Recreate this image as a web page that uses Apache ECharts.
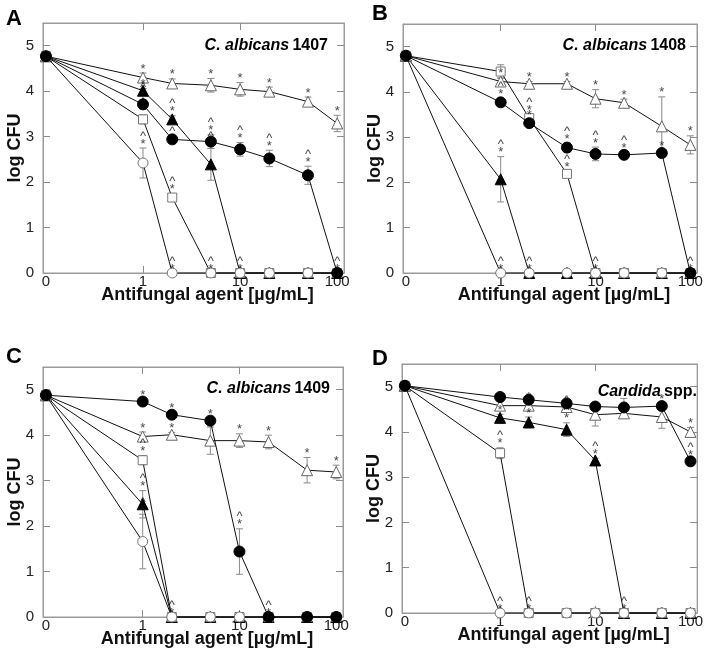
<!DOCTYPE html>
<html><head><meta charset="utf-8">
<script src="https://cdn.jsdelivr.net/npm/echarts@6/dist/echarts.min.js"></script>
<style>html,body{margin:0;padding:0;background:#fff}#c{width:706px;height:655px}</style>
</head><body><div id="c"></div>
<script>
// ---------- data ----------
const conc = [0, 1, 2, 5, 10, 20, 50, 100];
const xTickValues = [-1, 0, 1, 2];
const xTickLabels = ['0', '1', '10', '100'];
const yTickLabels = ['0', '1', '2', '3', '4', '5'];
const panelLetters = ['A', 'B', 'C', 'D'];
const panelTitleItalic = ['C. albicans', 'C. albicans', 'C. albicans', 'Candida'];
const panelTitleRest = ['1407', '1408', '1409', 'spp.'];

// Panel A
const A_openSquare     = [4.77, 3.38, 1.66, 0, 0, 0, 0, 0];
const A_openCircle     = [4.77, 2.42, 0, 0, 0, 0, 0, 0];
const A_openTriangle   = [4.77, 4.30, 4.17, 4.13, 4.04, 3.99, 3.77, 3.29];
const A_filledTriangle = [4.77, 4.01, 3.38, 2.39, 0, 0, 0, 0];
const A_filledCircle   = [4.77, 3.71, 2.94, 2.89, 2.72, 2.52, 2.15, 0];
const A_err_openSquare     = [0, 0.10, 0.08, 0, 0, 0, 0, 0];
const A_err_openCircle     = [0, 0.33, 0, 0, 0, 0, 0, 0];
const A_err_openTriangle   = [0, 0.10, 0.10, 0.15, 0.15, 0.10, 0.10, 0.18];
const A_err_filledTriangle = [0, 0.05, 0.08, 0.35, 0, 0, 0, 0];
const A_err_filledCircle   = [0, 0.10, 0.08, 0.15, 0.15, 0.18, 0.20, 0];
const A_note_openSquare     = ['', '^*', '^*', '^*', '', '', '', ''];
const A_note_openCircle     = ['', '^*', '^*', '', '', '', '', ''];
const A_note_openTriangle   = ['', '*', '*', '*', '*', '*', '*', '*'];
const A_note_filledTriangle = ['', '*', '^*', '^*', '^*', '', '', ''];
const A_note_filledCircle   = ['', '^*', '^', '^*', '^*', '^*', '^*', '^*'];

// Panel B
const B_openSquare     = [4.80, 4.45, 3.42, 2.19, 0, 0, 0, 0];
const B_openCircle     = [4.80, 0, 0, 0, 0, 0, 0, 0];
const B_openTriangle   = [4.80, 4.23, 4.18, 4.18, 3.85, 3.76, 3.24, 2.83];
const B_filledTriangle = [4.80, 2.07, 0, 0, 0, 0, 0, 0];
const B_filledCircle   = [4.80, 3.77, 3.31, 2.77, 2.63, 2.61, 2.65, 0];
const B_err_openSquare     = [0, 0.15, 0.08, 0.05, 0, 0, 0, 0];
const B_err_openCircle     = [0, 0, 0, 0, 0, 0, 0, 0];
const B_err_openTriangle   = [0, 0.08, 0.05, 0.05, 0.20, 0.08, 0.65, 0.20];
const B_err_filledTriangle = [0, 0.50, 0, 0, 0, 0, 0, 0];
const B_err_filledCircle   = [0, 0.08, 0.08, 0.10, 0.15, 0.05, 0.05, 0];
const B_note_openSquare     = ['', '', '^*', '^*', '^*', '', '', ''];
const B_note_openCircle     = ['', '^*', '', '', '', '', '', ''];
const B_note_openTriangle   = ['', '*', '*', '*', '*', '*', '*', '*'];
const B_note_filledTriangle = ['', '^*', '^*', '', '', '', '', ''];
const B_note_filledCircle   = ['', '^*', '*', '^*', '^*', '^*', '*', '^*'];

// Panel C
const C_openSquare     = [4.88, 3.45, 0, 0, 0, 0, 0, 0];
const C_openCircle     = [4.88, 1.66, 0, 0, 0, 0, 0, 0];
const C_openTriangle   = [4.88, 3.97, 4.01, 3.88, 3.88, 3.85, 3.23, 3.19];
const C_filledTriangle = [4.88, 2.48, 0, 0, 0, 0, 0, 0];
const C_filledCircle   = [4.88, 4.74, 4.45, 4.32, 1.44, 0, 0, 0];
const C_err_openSquare     = [0, 0.10, 0, 0, 0, 0, 0, 0];
const C_err_openCircle     = [0, 0.60, 0, 0, 0, 0, 0, 0];
const C_err_openTriangle   = [0, 0.10, 0.05, 0.30, 0.15, 0.15, 0.28, 0.15];
const C_err_filledTriangle = [0, 0.30, 0, 0, 0, 0, 0, 0];
const C_err_filledCircle   = [0, 0.05, 0.05, 0.05, 0.50, 0, 0, 0];
const C_note_openSquare     = ['', '^*', '', '', '', '', '', ''];
const C_note_openCircle     = ['', '^*', '^*', '', '', '', '', ''];
const C_note_openTriangle   = ['', '*', '*', '*', '*', '*', '*', '*'];
const C_note_filledTriangle = ['', '^*', '', '', '', '', '', ''];
const C_note_filledCircle   = ['', '*', '*', '*', '^*', '^*', '', ''];

// Panel D
const D_openSquare     = [5.02, 3.53, 0, 0, 0, 0, 0, 0];
const D_openCircle     = [5.02, 0, 0, 0, 0, 0, 0, 0];
const D_openTriangle   = [5.02, 4.58, 4.58, 4.55, 4.38, 4.41, 4.33, 4.00];
const D_filledTriangle = [5.02, 4.31, 4.21, 4.05, 3.37, 0, 0, 0];
const D_filledCircle   = [5.02, 4.77, 4.71, 4.63, 4.56, 4.54, 4.57, 3.35];
const D_err_openSquare     = [0, 0.12, 0, 0, 0, 0, 0, 0];
const D_err_openCircle     = [0, 0, 0, 0, 0, 0, 0, 0];
const D_err_openTriangle   = [0, 0.10, 0.10, 0.05, 0.25, 0.10, 0.25, 0.10];
const D_err_filledTriangle = [0, 0.08, 0.12, 0.15, 0.05, 0, 0, 0];
const D_err_filledCircle   = [0, 0.05, 0.05, 0.05, 0.05, 0.20, 0.05, 0.05];
const D_note_openSquare     = ['', '^*', '^*', '', '', '', '', ''];
const D_note_openCircle     = ['', '^*', '', '', '', '', '', ''];
const D_note_openTriangle   = ['', '*', '*', '^', '', '', '', '*'];
const D_note_filledTriangle = ['', '*', '*', '^*', '^*', '^*', '', ''];
const D_note_filledCircle   = ['', '', '', '', '', '', '*', '^*'];

// ---------- assembly (drawing order: ▲, △, □, ○, ●) ----------
const panelValues = [
  [A_filledTriangle, A_openTriangle, A_openSquare, A_openCircle, A_filledCircle],
  [B_filledTriangle, B_openTriangle, B_openSquare, B_openCircle, B_filledCircle],
  [C_filledTriangle, C_openTriangle, C_openSquare, C_openCircle, C_filledCircle],
  [D_filledTriangle, D_openTriangle, D_openSquare, D_openCircle, D_filledCircle]
];
const panelErrors = [
  [A_err_filledTriangle, A_err_openTriangle, A_err_openSquare, A_err_openCircle, A_err_filledCircle],
  [B_err_filledTriangle, B_err_openTriangle, B_err_openSquare, B_err_openCircle, B_err_filledCircle],
  [C_err_filledTriangle, C_err_openTriangle, C_err_openSquare, C_err_openCircle, C_err_filledCircle],
  [D_err_filledTriangle, D_err_openTriangle, D_err_openSquare, D_err_openCircle, D_err_filledCircle]
];
const panelNotes = [
  [A_note_filledTriangle, A_note_openTriangle, A_note_openSquare, A_note_openCircle, A_note_filledCircle],
  [B_note_filledTriangle, B_note_openTriangle, B_note_openSquare, B_note_openCircle, B_note_filledCircle],
  [C_note_filledTriangle, C_note_openTriangle, C_note_openSquare, C_note_openCircle, C_note_filledCircle],
  [D_note_filledTriangle, D_note_openTriangle, D_note_openSquare, D_note_openCircle, D_note_filledCircle]
];

const FONT = 'Liberation Sans, Arial, Helvetica, sans-serif';
const gridBoxes = [
  {left: 43, top: 23, width: 301, height: 250},
  {left: 403, top: 24, width: 294, height: 249},
  {left: 43, top: 367, width: 300, height: 250},
  {left: 402, top: 364, width: 297, height: 249}
];
const letterPos = [[6, 8], [372, 3], [6, 346], [372, 348]];
const titlePos = [[328, 46], [686, 46], [330, 389], [697, 392]];

const markerStyles = [
  {symbol: 'triangle', symbolSize: 11, itemStyle: {color: '#000', borderColor: '#000', borderWidth: 1}},
  {symbol: 'triangle', symbolSize: 11, itemStyle: {color: '#fff', borderColor: '#666', borderWidth: 1}},
  {symbol: 'rect', symbolSize: 9, itemStyle: {color: '#fff', borderColor: '#777', borderWidth: 1}},
  {symbol: 'circle', symbolSize: 10, itemStyle: {color: '#fff', borderColor: '#777', borderWidth: 1}},
  {symbol: 'circle', symbolSize: 11, itemStyle: {color: '#000', borderColor: '#000', borderWidth: 1}}
];

function xPos(c) { return c === 0 ? -1 : Math.log10(c); }

const grid = [], xAxis = [], yAxis = [], series = [], graphic = [];
const XMIN = -1.03, XMAX = 2.07;
const GRAY = '#9a9a9a';
const tickStyle = {color: '#8c8c8c', width: 1};
const lineGray = {show: true, onZero: false, lineStyle: {color: GRAY, width: 1}};

for (let p = 0; p < 4; p++) {
  grid.push(Object.assign({show: true, borderColor: GRAY, borderWidth: 1, backgroundColor: 'transparent'}, gridBoxes[p]));
  xAxis.push({
    gridIndex: p, type: 'value', min: XMIN, max: XMAX, position: 'bottom',
    axisLine: lineGray, splitLine: {show: false},
    axisTick: {show: true, inside: true, length: 7, lineStyle: tickStyle, customValues: [0, 1]},
    axisLabel: {customValues: xTickValues, formatter: v => xTickLabels[xTickValues.indexOf(v)],
      margin: 1, fontSize: 15, color: '#222', fontFamily: FONT},
    name: 'Antifungal agent [µg/mL]', nameLocation: 'middle', nameGap: 13, nameMoveOverlap: false,
    nameTextStyle: {fontSize: 18, fontWeight: 'bold', color: '#111', fontFamily: FONT, padding: [0, 0, 0, 28]}
  });
  xAxis.push({
    gridIndex: p, type: 'value', min: XMIN, max: XMAX, position: 'top',
    axisLine: lineGray, splitLine: {show: false},
    axisTick: {show: true, inside: true, length: 7, lineStyle: tickStyle, customValues: [0, 1]},
    axisLabel: {show: false}
  });
  yAxis.push({
    gridIndex: p, type: 'value', min: 0, max: 5.5, position: 'left',
    axisLine: lineGray, splitLine: {show: false},
    axisTick: {show: true, inside: true, length: 7, lineStyle: tickStyle, customValues: [1, 2, 3, 4, 5]},
    axisLabel: {customValues: [0, 1, 2, 3, 4, 5], formatter: v => yTickLabels[v],
      margin: 9, fontSize: 15, color: '#222', fontFamily: FONT},
    name: 'log CFU', nameLocation: 'middle', nameGap: 19, nameMoveOverlap: false,
    nameTextStyle: {fontSize: 18, fontWeight: 'bold', color: '#111', fontFamily: FONT}
  });
  yAxis.push({
    gridIndex: p, type: 'value', min: 0, max: 5.5, position: 'right',
    axisLine: lineGray, splitLine: {show: false},
    axisTick: {show: true, inside: true, length: 7, lineStyle: tickStyle, customValues: [1, 2, 3, 4, 5]},
    axisLabel: {show: false}
  });

  const xi = p * 2, yi = p * 2;
  const errData = [], noteData = [];
  panelValues[p].forEach((vals, s) => {
    const errs = panelErrors[p][s], notes = panelNotes[p][s];
    series.push(Object.assign({
      type: 'line', xAxisIndex: xi, yAxisIndex: yi, clip: false, z: 3 + s,
      showSymbol: true, showAllSymbol: true,
      lineStyle: {color: '#111', width: 1},
      data: conc.map((c, i) => [xPos(c), vals[i]])
    }, markerStyles[s]));
    conc.forEach((c, i) => {
      if (errs[i] > 0) errData.push([xPos(c), vals[i] - errs[i], vals[i] + errs[i]]);
      if (notes[i]) noteData.push([xPos(c), vals[i] + errs[i], notes[i]]);
    });
  });
  series.push({
    type: 'custom', xAxisIndex: xi, yAxisIndex: yi, z: 2, silent: true, clip: false,
    renderItem: (params, api) => {
      const x = api.value(0);
      const a = api.coord([x, api.value(1)]), b = api.coord([x, api.value(2)]);
      const w = 3.5, st = {stroke: '#8a8a8a', lineWidth: 1};
      return {type: 'group', children: [
        {type: 'line', shape: {x1: a[0], y1: a[1], x2: b[0], y2: b[1]}, style: st},
        {type: 'line', shape: {x1: a[0] - w, y1: a[1], x2: a[0] + w, y2: a[1]}, style: st},
        {type: 'line', shape: {x1: b[0] - w, y1: b[1], x2: b[0] + w, y2: b[1]}, style: st}
      ]};
    },
    data: errData
  });
  series.push({
    type: 'scatter', xAxisIndex: xi, yAxisIndex: yi, z: 20, silent: true, clip: false,
    symbolSize: 0, itemStyle: {color: 'transparent'},
    label: {show: true, position: 'top', distance: 0,
      formatter: q => q.value[2].split('').join('\n'),
      fontSize: 13, lineHeight: 8, color: '#111', fontFamily: FONT},
    data: noteData
  });

  graphic.push({type: 'text', x: letterPos[p][0], y: letterPos[p][1],
    style: {text: panelLetters[p], fontSize: 22, fontWeight: 'bold', fontFamily: FONT, fill: '#000'}});
  graphic.push({type: 'text', x: titlePos[p][0], y: titlePos[p][1],
    style: {text: '{i|' + panelTitleItalic[p] + '} {n|' + panelTitleRest[p] + '}',
      align: 'right', verticalAlign: 'middle',
      rich: {
        i: {fontSize: 16, fontWeight: 'bold', fontStyle: 'italic', fontFamily: FONT, fill: '#000'},
        n: {fontSize: 16, fontWeight: 'bold', fontFamily: FONT, fill: '#000'}
      }}});
}

const chart = echarts.init(document.getElementById('c'));
chart.setOption({animation: false, backgroundColor: '#fff', grid, xAxis, yAxis, series, graphic});
</script></body></html>
